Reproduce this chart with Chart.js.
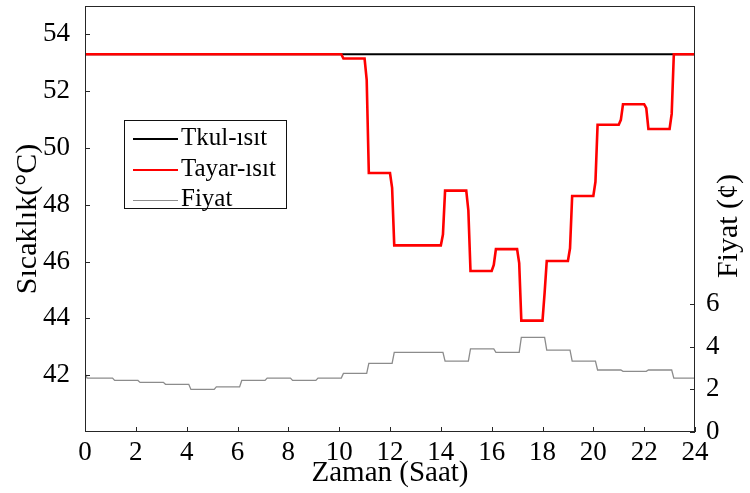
<!DOCTYPE html>
<html><head><meta charset="utf-8">
<script src="https://cdn.jsdelivr.net/npm/chart.js@4"></script>
<style>
html,body{margin:0;padding:0;background:#fff;}
#wrap{position:relative;width:750px;height:493px;}
#c{position:absolute;left:0;top:0;}
#legend{position:absolute;left:124px;top:120px;width:161px;height:87px;border:1px solid #111;background:#fff;font-family:"Liberation Serif","Times New Roman",serif;font-size:25px;color:#000;}
.row{position:absolute;left:8px;height:30px;line-height:30px;white-space:nowrap;}
.sw{display:inline-block;width:45px;vertical-align:middle;margin-right:3px;}
</style></head>
<body><div id="wrap"><canvas id="c" width="750" height="493"></canvas><div id="legend"></div></div>
<script>
const hourTicks = [0, 2, 4, 6, 8, 10, 12, 14, 16, 18, 20, 22, 24];
const tempTicks = [42, 44, 46, 48, 50, 52, 54];
const priceTicks = [0, 2, 4, 6];

const tkulHours = [0, 24];
const tkulTemps = [53.3, 53.3];

const tayarHours = [0, 10.083, 10.167, 11, 11.083, 11.167, 12, 12.083, 12.167, 14, 14.083, 14.167,
  15, 15.083, 15.167, 16, 16.083, 16.167, 17, 17.083, 17.167, 18, 18.083, 18.167,
  19, 19.083, 19.167, 20, 20.083, 20.167, 21, 21.083, 21.167, 22, 22.083, 22.167,
  23, 23.083, 23.167, 24];
const tayarTemps = [53.3, 53.3, 53.15, 53.15, 52.4, 49.12, 49.12, 48.6, 46.57, 46.57, 46.95, 48.5,
  48.5, 47.8, 45.67, 45.67, 45.88, 46.44, 46.44, 45.95, 43.92, 43.92, 44.9, 46.02,
  46.02, 46.47, 48.31, 48.31, 48.81, 50.82, 50.82, 50.99, 51.54, 51.54, 51.4, 50.67,
  50.67, 51.2, 53.3, 53.3];

const fiyatHours = [0, 0.083, 1.083, 1.167, 2.083, 2.167, 3.083, 3.167, 4.083, 4.167, 5.083, 5.167,
  6.083, 6.167, 7.083, 7.167, 8.083, 8.167, 9.083, 9.167, 10.083, 10.167, 11.083, 11.167,
  12.083, 12.167, 14.083, 14.167, 15.083, 15.167, 16.083, 16.167, 17.083, 17.167,
  18.083, 18.167, 19.083, 19.167, 20.083, 20.167, 21.083, 21.167, 22.083, 22.167,
  23.083, 23.167, 24];
const fiyatPrices = [2.75, 2.53, 2.53, 2.42, 2.42, 2.33, 2.33, 2.24, 2.24, 2.0, 2.0, 2.12,
  2.12, 2.42, 2.42, 2.53, 2.53, 2.42, 2.42, 2.53, 2.53, 2.75, 2.75, 3.22,
  3.22, 3.74, 3.74, 3.33, 3.33, 3.9, 3.9, 3.74, 3.74, 4.44,
  4.44, 3.84, 3.84, 3.33, 3.33, 2.91, 2.91, 2.85, 2.85, 2.91,
  2.91, 2.53, 2.53];

const seriesLabels = ['Tkul-ısıt', 'Tayar-ısıt', 'Fiyat'];
const rightTitle = 'Fiyat (¢)';

const pts = (xs, ys) => xs.map((x, i) => ({x: x, y: ys[i]}));
const FONT = '"Liberation Serif","Times New Roman",serif';

const frame = {
  id: 'frame',
  afterDatasetsDraw(chart) {
    const {ctx, chartArea: a, scales} = chart;
    ctx.save();
    ctx.strokeStyle = '#262626';
    ctx.lineWidth = 1;
    ctx.strokeRect(Math.round(a.left) + 0.5, Math.round(a.top) + 0.5, Math.round(a.right - a.left) - 1, Math.round(a.bottom - a.top) - 1);
    ctx.beginPath();
    const L = 5;
    tempTicks.forEach(v => { const p = Math.round(scales.y.getPixelForValue(v)) + 0.5; ctx.moveTo(a.left, p); ctx.lineTo(a.left + L, p); });
    priceTicks.forEach(v => { const p = Math.round(scales.y1.getPixelForValue(v)) + 0.5; ctx.moveTo(a.right, p); ctx.lineTo(a.right - L, p); });
    hourTicks.forEach(v => { const p = Math.round(scales.x.getPixelForValue(v)) + 0.5; ctx.moveTo(p, a.bottom); ctx.lineTo(p, a.bottom - L); });
    ctx.stroke();
    // right axis title, reading bottom-to-top
    const s = scales.y1;
    ctx.translate(729, (s.top + s.bottom) / 2 + 7);
    ctx.rotate(-Math.PI / 2);
    ctx.font = '30px ' + FONT;
    ctx.fillStyle = '#000';
    ctx.textAlign = 'center';
    ctx.textBaseline = 'middle';
    ctx.fillText(rightTitle, 0, 0);
    ctx.restore();
  }
};

const noPad = s => { s.paddingTop = 0; s.paddingBottom = 0; s.paddingLeft = 0; s.paddingRight = 0; };

const chart = new Chart(document.getElementById('c'), {
  type: 'line',
  data: {
    datasets: [
      {label: seriesLabels[0], data: pts(tkulHours, tkulTemps), yAxisID: 'y', borderColor: '#000000', borderWidth: 2, pointRadius: 0, tension: 0, order: 1},
      {label: seriesLabels[1], data: pts(tayarHours, tayarTemps), yAxisID: 'y', borderColor: '#ff0000', borderWidth: 2.6, pointRadius: 0, tension: 0, order: 0},
      {label: seriesLabels[2], data: pts(fiyatHours, fiyatPrices), yAxisID: 'y1', borderColor: '#8c8c8c', borderWidth: 1.3, pointRadius: 0, tension: 0, order: 2}
    ]
  },
  options: {
    responsive: false,
    animation: false,
    layout: {padding: {top: 6, left: 0, right: 0, bottom: 0}},
    plugins: {legend: {display: false}, tooltip: {enabled: false}},
    scales: {
      x: {
        type: 'linear', min: 0, max: 24,
        grid: {display: false}, border: {display: false},
        afterBuildTicks: s => { s.ticks = hourTicks.map(v => ({value: v})); },
        afterFit: s => { s.height = 61; noPad(s); },
        ticks: {font: {family: FONT, size: 27}, color: '#000', padding: -3, maxRotation: 0, autoSkip: false},
        title: {display: true, text: 'Zaman (Saat)', font: {family: FONT, size: 29}, color: '#000', padding: {top: 0, bottom: 2}}
      },
      y: {
        type: 'linear', position: 'left', min: 40, max: 55,
        grid: {display: false}, border: {display: false},
        afterBuildTicks: s => { s.ticks = tempTicks.map(v => ({value: v})); },
        afterFit: s => { s.width = 85; noPad(s); },
        ticks: {font: {family: FONT, size: 27}, color: '#000', padding: 7},
        title: {display: true, text: 'Sıcaklık(°C)', font: {family: FONT, size: 30}, color: '#000', padding: {top: 10, bottom: 0}}
      },
      y1: {
        type: 'linear', position: 'right', min: 0, max: 20,
        grid: {display: false}, border: {display: false},
        afterBuildTicks: s => { s.ticks = priceTicks.map(v => ({value: v})); },
        afterFit: s => { s.width = 55; noPad(s); },
        ticks: {font: {family: FONT, size: 27}, color: '#000', padding: 3},
        title: {display: false}
      }
    }
  },
  plugins: [frame]
});

// HTML legend built from the chart's datasets
const lg = document.getElementById('legend');
const rowTops = [1, 32, 62];
chart.data.datasets.forEach((ds, i) => {
  const r = document.createElement('div');
  r.className = 'row';
  r.style.top = rowTops[i] + 'px';
  const sw = document.createElement('span');
  sw.className = 'sw';
  sw.style.borderTop = ds.borderWidth + 'px solid ' + ds.borderColor;
  r.appendChild(sw);
  r.appendChild(document.createTextNode(ds.label));
  lg.appendChild(r);
});
</script>
</body></html>
